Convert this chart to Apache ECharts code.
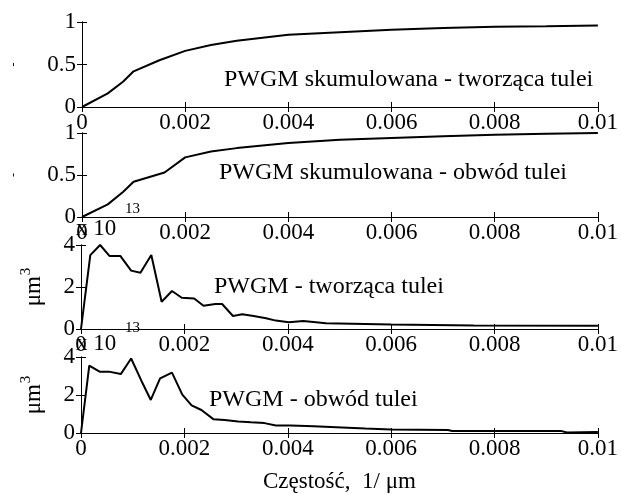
<!DOCTYPE html>
<html>
<head>
    <meta charset="utf-8" />
    <title></title>
    <script src="https://cdn.jsdelivr.net/npm/echarts@6/dist/echarts.min.js"></script>
    <style>
        html, body { margin: 0; padding: 0; background: #fff; }
    </style>
</head>
<body>
    <div id="main" style="width: 621px; height: 494px;"></div>
    <script type="text/javascript">
        // dane
        // PWGM skumulowana - tworząca tulei
        var cumTworzX = [0, 0.0005, 0.0008, 0.001, 0.0015, 0.002, 0.0025, 0.003, 0.004, 0.005, 0.006, 0.007, 0.008, 0.009, 0.01];
        var cumTworzY = [0, 0.16, 0.3, 0.42, 0.55, 0.66, 0.73, 0.78, 0.85, 0.88, 0.91, 0.93, 0.945, 0.95, 0.96];
        // PWGM skumulowana - obwód tulei
        var cumObwodX = [0, 0.0005, 0.0008, 0.001, 0.0016, 0.002, 0.0025, 0.003, 0.004, 0.005, 0.006, 0.007, 0.008, 0.009, 0.01];
        var cumObwodY = [0, 0.15, 0.3, 0.42, 0.53, 0.71, 0.78, 0.82, 0.88, 0.92, 0.94, 0.96, 0.98, 0.99, 1.0];
        // PWGM - tworząca tulei (x 10^13 um^3)
        var tworzX = [0, 0.00018, 0.00037, 0.00055, 0.00076, 0.00097, 0.00115, 0.00136, 0.00156, 0.00176, 0.00195, 0.00219, 0.00237, 0.0026, 0.00273, 0.00294, 0.00312, 0.00334, 0.00358, 0.00377, 0.00402, 0.0043, 0.00474, 0.006, 0.0076, 0.01];
        var tworzY = [0, 3.52, 4.0, 3.48, 3.48, 2.78, 2.68, 3.52, 1.3, 1.81, 1.49, 1.45, 1.11, 1.19, 1.19, 0.62, 0.7, 0.62, 0.51, 0.4, 0.32, 0.38, 0.27, 0.22, 0.17, 0.16];
        // PWGM - obwód tulei (x 10^13 um^3)
        var obwodX = [0, 0.00016, 0.00036, 0.00054, 0.00077, 0.00097, 0.00117, 0.00135, 0.00153, 0.00176, 0.00196, 0.00214, 0.00233, 0.00256, 0.00278, 0.00304, 0.00329, 0.00355, 0.00377, 0.00406, 0.0045, 0.00505, 0.0055, 0.006, 0.0071, 0.00718, 0.0083, 0.0093, 0.0094, 0.01];
        var obwodY = [0, 3.55, 3.23, 3.23, 3.1, 3.92, 2.74, 1.74, 2.87, 3.18, 2.02, 1.45, 1.21, 0.73, 0.69, 0.61, 0.56, 0.52, 0.4, 0.4, 0.35, 0.29, 0.24, 0.19, 0.16, 0.11, 0.11, 0.1, 0.03, 0.05];

        var xTicks = [0, 0.002, 0.004, 0.006, 0.008, 0.01];
        var yTicksCum = [0, 0.5, 1];
        var yTicksPwgm = [0, 2, 4];
        var titles = ['PWGM skumulowana - tworząca tulei', 'PWGM skumulowana - obwód tulei', 'PWGM - tworząca tulei', 'PWGM - obwód tulei'];

        var FONT = 'Liberation Serif';
        var FS = 23;

        // pozycje paneli [top, height]
        var panels = [[22, 85], [133, 84], [245, 84], [357, 83]];
        var titlePos = [[224, 68], [219, 161], [214, 275], [209, 388]];

        var grids = [], xAxes = [], yAxes = [], series = [], graphics = [];

        function zip(xs, ys) {
            var out = [];
            for (var i = 0; i < xs.length; i++) out.push([xs[i], ys[i]]);
            return out;
        }

        var seriesData = [
            zip(cumTworzX, cumTworzY),
            zip(cumObwodX, cumObwodY),
            zip(tworzX, tworzY),
            zip(obwodX, obwodY)
        ];

        for (var i = 0; i < 4; i++) {
            var yt = i < 2 ? yTicksCum : yTicksPwgm;
            grids.push({ left: 81, right: 19, top: panels[i][0], height: panels[i][1], containLabel: false });
            // dolna oś x z opisami
            xAxes.push({
                gridIndex: i, type: 'value', position: 'bottom',
                min: xTicks[0], max: xTicks[xTicks.length - 1], interval: 0.002,
                axisLine: { show: true, lineStyle: { color: '#000', width: 1 } },
                axisTick: { show: true, inside: true, length: 5, lineStyle: { color: '#000' } },
                axisLabel: {
                    show: true, color: '#000', fontFamily: FONT, fontSize: FS, margin: 4,
                    formatter: function (v) { return v === 0 ? '0' : String(+v.toFixed(3)); }
                },
                splitLine: { show: false },
                name: i === 3 ? 'Częstość,  1/ μm' : '',
                nameLocation: 'middle', nameGap: 37,
                nameTextStyle: { color: '#000', fontFamily: FONT, fontSize: FS }
            });
            // górna oś x - tylko znaczniki
            xAxes.push({
                gridIndex: i, type: 'value', position: 'top',
                min: xTicks[0], max: xTicks[xTicks.length - 1], interval: 0.002,
                axisLine: { show: true, lineStyle: { color: '#000', width: 1 } },
                axisTick: { show: true, inside: true, length: 5, lineStyle: { color: '#000' } },
                axisLabel: { show: false },
                splitLine: { show: false }
            });
            var yName = i < 2 ? '-' : '{a|μm}{b|3}';
            yAxes.push({
                gridIndex: i, type: 'value', position: 'left',
                min: yt[0], max: yt[yt.length - 1], interval: yt[1] - yt[0],
                axisLine: { show: true, lineStyle: { color: '#000', width: 1 } },
                axisTick: { show: true, inside: true, length: 5, lineStyle: { color: '#000' } },
                axisLabel: {
                    show: true, color: '#000', fontFamily: FONT, fontSize: FS, margin: 6,
                    formatter: function (v) { return String(v); }
                },
                splitLine: { show: false },
                name: yName,
                nameLocation: 'middle', nameRotate: 90,
                nameGap: i < 2 ? 62 : 36,
                nameTextStyle: {
                    color: '#000', fontFamily: FONT, fontSize: i < 2 ? 12 : FS,
                    rich: {
                        a: { fontFamily: FONT, fontSize: FS, color: '#000', lineHeight: 26, verticalAlign: 'bottom' },
                        b: { fontFamily: FONT, fontSize: 15, color: '#000', lineHeight: 26, verticalAlign: 'top', padding: [0, 0, 12, 1] }
                    }
                }
            });
            yAxes.push({
                gridIndex: i, type: 'value', position: 'right',
                min: yt[0], max: yt[yt.length - 1], interval: yt[1] - yt[0],
                axisLine: { show: true, lineStyle: { color: '#000', width: 1 } },
                axisTick: { show: true, inside: true, length: 5, lineStyle: { color: '#000' } },
                axisLabel: { show: false },
                splitLine: { show: false }
            });
            series.push({
                type: 'line',
                xAxisIndex: i * 2, yAxisIndex: i * 2,
                data: seriesData[i],
                showSymbol: false,
                lineStyle: { color: '#000', width: 2 },
                z: 3
            });
            graphics.push({
                type: 'text', left: titlePos[i][0], top: titlePos[i][1],
                style: { text: titles[i], fill: '#000', font: '24px "' + FONT + '"' },
                z: 10
            });
        }

        // mnożnik osi: x 10^13
        [[217, 202], [332, 321]].forEach(function (p) {
            graphics.push({
                type: 'text', left: 76, top: p[0],
                style: { text: 'x 10', fill: '#000', font: FS + 'px "' + FONT + '"' }, z: 10
            });
            graphics.push({
                type: 'text', left: 125, top: p[1],
                style: { text: '13', fill: '#000', font: '15px "' + FONT + '"' }, z: 10
            });
        });

        var chart = echarts.init(document.getElementById('main'));
        var option = {
            animation: false,
            backgroundColor: '#fff',
            grid: grids,
            xAxis: xAxes,
            yAxis: yAxes,
            series: series,
            graphic: graphics
        };
        chart.setOption(option);
    </script>
</body>
</html>
